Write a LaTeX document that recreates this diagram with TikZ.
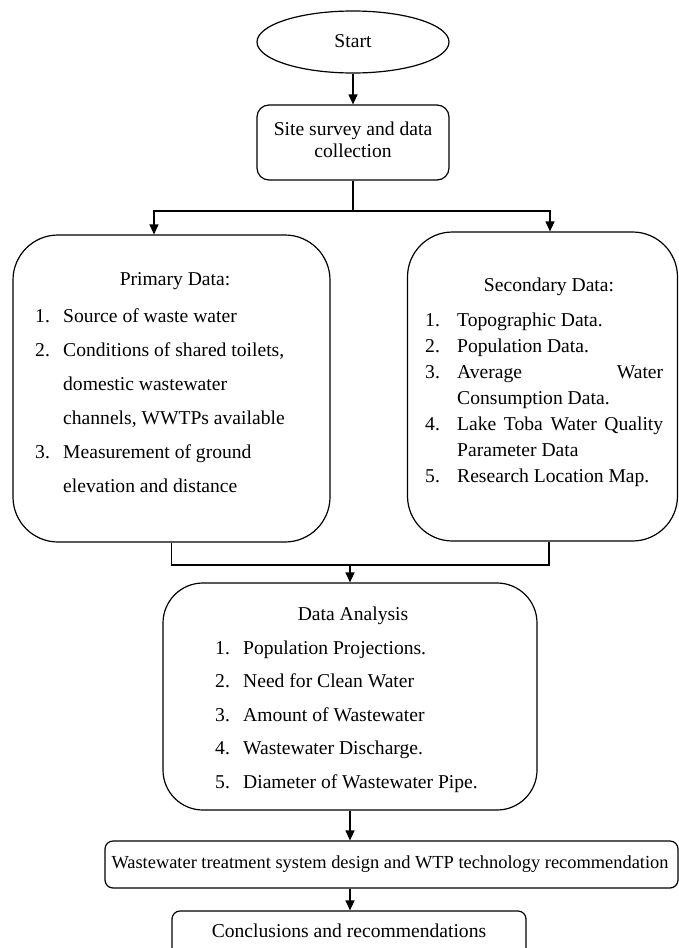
\documentclass[tikz,border=0pt]{standalone}
\usepackage{fontspec}
\setmainfont{Liberation Serif}
\usetikzlibrary{shapes.geometric,arrows.meta}
\newcommand\myitem[2]{\par\hangindent=#1\hangafter=1\noindent\makebox[#1][l]{#2}\ignorespaces}
\begin{document}
\begin{tikzpicture}[x=1pt,y=-1pt,
  box/.style={draw, line width=1.2pt, inner sep=0pt, rectangle},
  arr/.style={line width=1.2pt, -{Triangle[length=10pt,width=9pt]}},
  ln/.style={line width=1.2pt},
  txt/.style={inner sep=0pt, font=\fontsize{19.6}{22}\selectfont},
]
\useasboundingbox (0,0) rectangle (679,948);
\clip (0,0) rectangle (679,948);

% shapes
\node[draw, line width=1.2pt, ellipse, inner sep=0pt, minimum width=192pt, minimum height=62pt] (start) at (353,42) {};
\node[box, rounded corners=12pt, minimum width=192pt, minimum height=75pt] (site) at (353,142.5) {};
\node[box, rounded corners=45pt, minimum width=317pt, minimum height=307pt] (prim) at (171.5,388.5) {};
\node[box, rounded corners=45pt, minimum width=270pt, minimum height=309pt] (sec) at (542.5,386.5) {};
\node[box, rounded corners=40pt, minimum width=374pt, minimum height=227pt] (da) at (350,696.5) {};
\node[box, rounded corners=8pt, minimum width=573pt, minimum height=47pt] (wwt) at (391.5,864.5) {};
\node[box, rounded corners=8pt, minimum width=354pt, minimum height=49pt] (conc) at (349,935.5) {};

% texts
\node[txt, anchor=base] (startT) at (353,47) {Start};
\node[txt, anchor=base] (siteT) at (353,135) {\parbox[t]{185pt}{\centering\fontsize{19.6}{22}\selectfont Site survey and data\\ collection}};

\node[txt, anchor=base] (primT) at (175,285) {Primary Data:};
\node[txt, anchor=base west] (primL) at (35,322) {\parbox[t]{290pt}{\fontsize{19.6}{34}\selectfont\raggedright
\myitem{28pt}{1.}Source of waste water
\myitem{28pt}{2.}Conditions of shared toilets,\newline domestic wastewater\newline channels, WWTPs available
\myitem{28pt}{3.}Measurement of ground\newline elevation and distance}};

\node[txt, anchor=base] (secT) at (549,291) {Secondary Data:};
\node[txt, anchor=base west] (secL) at (425,326) {\parbox[t]{238pt}{\fontsize{19.6}{26}\selectfont
\myitem{32pt}{1.}Topographic Data.
\myitem{32pt}{2.}Population Data.
\myitem{32pt}{3.}Average\hfill Water\linebreak Consumption Data.
\myitem{32pt}{4.}Lake Toba Water Quality\linebreak Parameter Data
\myitem{32pt}{5.}Research Location Map.}};

\node[txt, anchor=base] (daT) at (353,620) {Data Analysis};
\node[txt, anchor=base west] (daL) at (215,654) {\parbox[t]{320pt}{\fontsize{19.6}{33.5}\selectfont\raggedright
\myitem{28pt}{1.}Population Projections.
\myitem{28pt}{2.}Need for Clean Water
\myitem{28pt}{3.}Amount of Wastewater
\myitem{28pt}{4.}Wastewater Discharge.
\myitem{28pt}{5.}Diameter of Wastewater Pipe.}};

\node[txt, anchor=base, font=\fontsize{18.4}{22}\selectfont] (wwtT) at (390,868) {Wastewater treatment system design and WTP technology recommendation};
\node[txt, anchor=base] (concT) at (349,937) {Conclusions and recommendations};

% connectors
\coordinate (split) at (353,211);
\coordinate (join) at (350,565);
\draw[arr] (start) -- (site);
\draw[ln] (site.south) -- (split);
\draw[arr] (split) -| ([xshift=-17.5pt]prim.north);
\draw[arr] (split) -| ([xshift=7.5pt]sec.north);
\draw[ln] (prim.south) |- ([xshift=6.5pt]sec.south |- join) -- ([xshift=6.5pt]sec.south);
\draw[arr] (join) -- (da);
\draw[arr] (da.south) -- (da.south |- wwt.north);
\draw[arr] (da.south |- wwt.south) -- (da.south |- conc.north);
\end{tikzpicture}
\end{document}
